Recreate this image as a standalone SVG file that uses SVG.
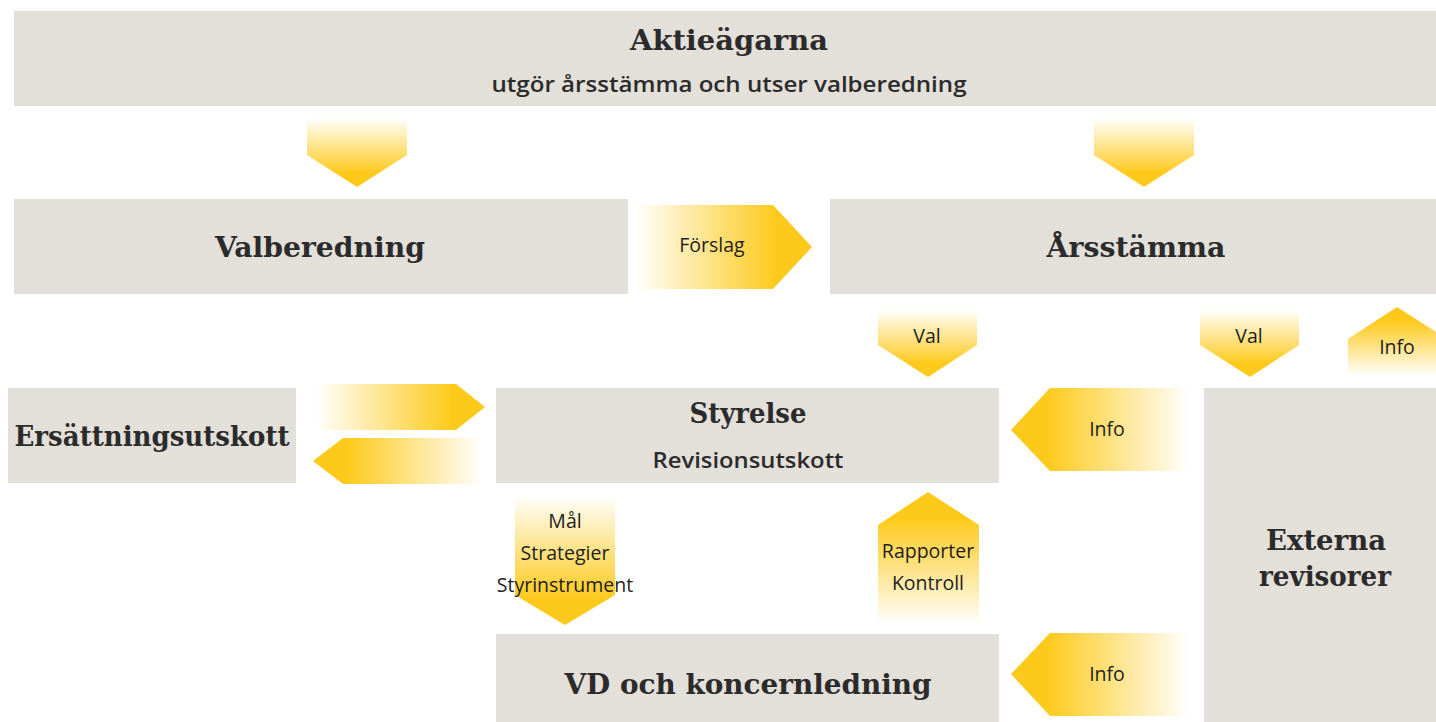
<svg xmlns="http://www.w3.org/2000/svg" width="1436" height="722" viewBox="0 0 1436 722">
<defs>
<linearGradient id="gDown" x1="0" y1="0" x2="0" y2="1"><stop offset="0" stop-color="#fdca1c" stop-opacity="0"/><stop offset="0.8" stop-color="#fdca1c" stop-opacity="1"/></linearGradient>
<linearGradient id="gUp" x1="0" y1="1" x2="0" y2="0"><stop offset="0" stop-color="#fdca1c" stop-opacity="0"/><stop offset="0.8" stop-color="#fdca1c" stop-opacity="1"/></linearGradient>
<linearGradient id="gRight" x1="0" y1="0" x2="1" y2="0"><stop offset="0" stop-color="#fdca1c" stop-opacity="0"/><stop offset="0.8" stop-color="#fdca1c" stop-opacity="1"/></linearGradient>
<linearGradient id="gLeft" x1="1" y1="0" x2="0" y2="0"><stop offset="0" stop-color="#fdca1c" stop-opacity="0"/><stop offset="0.8" stop-color="#fdca1c" stop-opacity="1"/></linearGradient>
<style>
.box{fill:#e3dfd9}
.t{font-family:"DejaVu Serif","Liberation Serif",serif;font-weight:bold;fill:#2b2b2b;text-anchor:middle}
.s{font-family:"Open Sans","Liberation Sans",sans-serif;font-weight:600;fill:#2b2b2b;text-anchor:middle}
.l{font-family:"Open Sans","Liberation Sans",sans-serif;font-weight:normal;fill:#1e1e1e;text-anchor:middle;font-size:19.5px}
</style>
</defs>
<g id="aktieagarna">
<rect class="box" x="14" y="11" width="1422" height="95"/>
<text class="t" x="729" y="50" font-size="27" textLength="198" lengthAdjust="spacingAndGlyphs">Aktieägarna</text>
<text class="s" x="729" y="92" font-size="21" textLength="475" lengthAdjust="spacingAndGlyphs">utgör årsstämma och utser valberedning</text>
</g>
<g id="valberedning">
<rect class="box" x="14" y="199" width="614" height="95"/>
<text class="t" x="320" y="257" font-size="27" textLength="210" lengthAdjust="spacingAndGlyphs">Valberedning</text>
</g>
<g id="arsstamma">
<rect class="box" x="830" y="199" width="606" height="95"/>
<text class="t" x="1136" y="257" font-size="27" textLength="179" lengthAdjust="spacingAndGlyphs">Årsstämma</text>
</g>
<g id="ersattningsutskott">
<rect class="box" x="8" y="388" width="288" height="95"/>
<text class="t" x="152" y="446" font-size="27" textLength="275" lengthAdjust="spacingAndGlyphs">Ersättningsutskott</text>
</g>
<g id="styrelse">
<rect class="box" x="496" y="388" width="503" height="95"/>
<text class="t" x="748" y="423" font-size="27" textLength="117" lengthAdjust="spacingAndGlyphs">Styrelse</text>
<text class="s" x="748" y="468" font-size="21" textLength="191" lengthAdjust="spacingAndGlyphs">Revisionsutskott</text>
</g>
<g id="vd">
<rect class="box" x="496" y="634" width="503" height="88"/>
<text class="t" x="748" y="694" font-size="27" textLength="367" lengthAdjust="spacingAndGlyphs">VD och koncernledning</text>
</g>
<g id="externa">
<rect class="box" x="1204" y="388" width="232" height="334"/>
<text class="t" x="1326" y="550" font-size="27" textLength="120" lengthAdjust="spacingAndGlyphs">Externa</text>
<text class="t" x="1325" y="586" font-size="27" textLength="132" lengthAdjust="spacingAndGlyphs">revisorer</text>
</g>
<g id="connectors">
<polygon fill="url(#gDown)" points="307,118 407,118 407,155 357,187 307,155"/>
<polygon fill="url(#gDown)" points="1094,118 1194,118 1194,155 1144,187 1094,155"/>
<polygon fill="url(#gRight)" points="634,205 773,205 812,247 773,289 634,289"/>
<text class="l" x="712" y="252">Förslag</text>
<polygon fill="url(#gDown)" points="878,310 977,310 977,345 928,377 878,345"/>
<text class="l" x="927" y="343">Val</text>
<polygon fill="url(#gDown)" points="1200,310 1299,310 1299,345 1250,377 1200,345"/>
<text class="l" x="1249" y="343">Val</text>
<polygon fill="url(#gUp)" points="1397,307 1447,339 1447,376 1348,376 1348,339"/>
<text class="l" x="1397" y="354">Info</text>
<polygon fill="url(#gRight)" points="316,384 456,384 485,407 456,430 316,430"/>
<polygon fill="url(#gLeft)" points="313,461 343,438 483,438 483,484 343,484"/>
<polygon fill="url(#gLeft)" points="1011,430 1050,388 1190,388 1190,471 1050,471"/>
<text class="l" x="1107" y="436">Info</text>
<polygon fill="url(#gLeft)" points="1011,674 1050,633 1190,633 1190,716 1050,716"/>
<text class="l" x="1107" y="681">Info</text>
<polygon fill="url(#gDown)" points="515,495 615,495 615,595 565,625 515,595"/>
<text class="l" x="565" y="528">Mål</text>
<text class="l" x="565" y="560">Strategier</text>
<text class="l" x="565" y="592">Styrinstrument</text>
<polygon fill="url(#gUp)" points="928,492 979,525 979,625 878,625 878,525"/>
<text class="l" x="928" y="558">Rapporter</text>
<text class="l" x="928" y="590">Kontroll</text>
</g>
</svg>
